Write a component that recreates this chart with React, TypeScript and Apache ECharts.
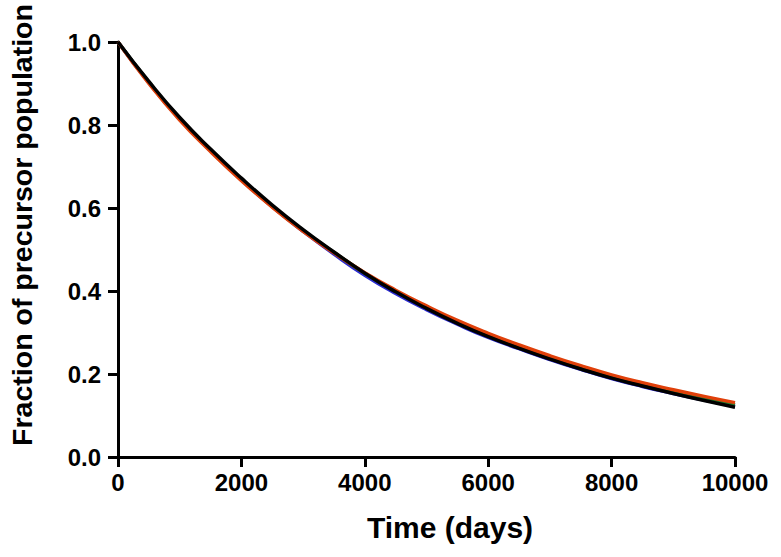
import React, { useEffect, useRef } from "react";
import * as echarts from "echarts";

const timeDays = [0, 500, 1000, 1500, 2000, 2500, 3000, 3500, 4000, 4500, 5000, 5500, 6000, 6500, 7000, 7500, 8000, 8500, 9000, 9500, 10000];
const blueSeries = [1.0, 0.902, 0.814, 0.738, 0.668, 0.603, 0.544, 0.489, 0.438, 0.394, 0.355, 0.320, 0.288, 0.261, 0.235, 0.211, 0.189, 0.170, 0.153, 0.137, 0.122];
const greenSeries = [1.0, 0.903, 0.815, 0.739, 0.669, 0.604, 0.546, 0.493, 0.443, 0.400, 0.361, 0.325, 0.294, 0.266, 0.240, 0.216, 0.194, 0.175, 0.157, 0.141, 0.126];
const redSeries = [1.0, 0.900, 0.812, 0.736, 0.666, 0.602, 0.544, 0.492, 0.444, 0.402, 0.364, 0.329, 0.298, 0.270, 0.244, 0.220, 0.198, 0.179, 0.162, 0.146, 0.131];
const blackSeries = [1.0, 0.905, 0.818, 0.742, 0.672, 0.607, 0.548, 0.494, 0.443, 0.398, 0.358, 0.322, 0.290, 0.262, 0.236, 0.212, 0.190, 0.171, 0.153, 0.136, 0.120];

const xTicks = [0, 2000, 4000, 6000, 8000, 10000];
const yTicks = [0, 0.2, 0.4, 0.6, 0.8, 1.0];
const xTitle = "Time (days)";
const yTitle = "Fraction of precursor population";

const pairs = (ys: number[]) => timeDays.map((t, i) => [t, ys[i]]);

export default function App() {
  const ref = useRef<HTMLDivElement>(null);
  useEffect(() => {
    if (!ref.current) return;
    const chart = echarts.init(ref.current, null, { renderer: "svg" });
    const tickFont = {
      fontFamily: "'Liberation Sans', Arial, sans-serif",
      fontWeight: "bold" as const,
      fontSize: 24,
      color: "#000",
    };
    const mkLine = (name: string, data: number[], color: string) => ({
      name,
      type: "line",
      data: pairs(data),
      showSymbol: false,
      smooth: true,
      lineStyle: { color, width: 3.5 },
      z: 2,
    });
    chart.setOption({
      animation: false,
      grid: { left: 118, right: 46, top: 42, bottom: 100 },
      xAxis: {
        type: "value",
        min: 0,
        max: 10000,
        interval: 2000,
        splitLine: { show: false },
        axisLine: { lineStyle: { color: "#000", width: 3 } },
        axisTick: { show: true, length: 10, lineStyle: { color: "#000", width: 3 } },
        axisLabel: {
          ...tickFont,
          margin: 13,
          formatter: (v: number) => (xTicks.includes(v) ? String(v) : ""),
        },
      },
      yAxis: {
        type: "value",
        min: 0,
        max: 1,
        interval: 0.2,
        splitLine: { show: false },
        axisLine: { show: true, lineStyle: { color: "#000", width: 3 } },
        axisTick: { show: true, length: 10, lineStyle: { color: "#000", width: 3 } },
        axisLabel: {
          ...tickFont,
          margin: 17,
          formatter: (v: number) => {
            const t = yTicks.find((y) => Math.abs(y - v) < 1e-9);
            return t === undefined ? "" : t.toFixed(1);
          },
        },
      },
      graphic: [
        {
          type: "text",
          x: 22,
          y: 225,
          rotation: Math.PI / 2,
          style: {
            text: yTitle,
            fontFamily: "'Liberation Sans', Arial, sans-serif",
            fontWeight: "bold",
            fontSize: 28.5,
            fill: "#000",
            align: "center",
            verticalAlign: "middle",
          },
        },
        {
          type: "text",
          x: 450,
          y: 527,
          style: {
            text: xTitle,
            fontFamily: "'Liberation Sans', Arial, sans-serif",
            fontWeight: "bold",
            fontSize: 30,
            fill: "#000",
            align: "center",
            verticalAlign: "middle",
          },
        },
      ],
      series: [
        mkLine("Blue", blueSeries, "#2a2ad0"),
        mkLine("Green", greenSeries, "#1f7a2a"),
        mkLine("Red", redSeries, "#e0400a"),
        mkLine("Black", blackSeries, "#000000"),
      ],
    });
    return () => chart.dispose();
  }, []);
  return (
    <div
      ref={ref}
      style={{ position: "fixed", left: 0, top: 0, width: 781, height: 557, background: "#fff" }}
    />
  );
}
